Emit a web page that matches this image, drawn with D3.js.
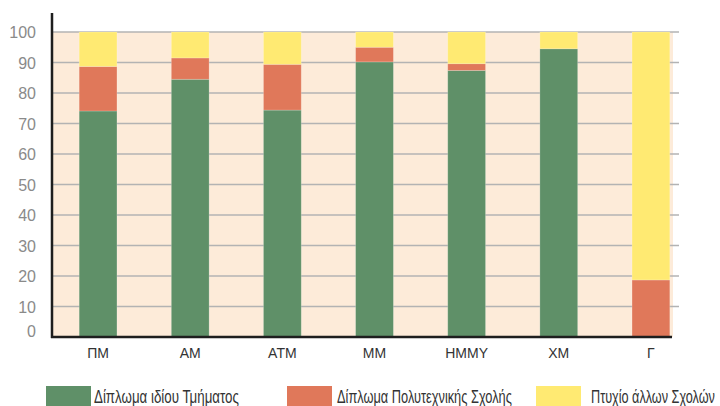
<!DOCTYPE html>
<html>
<head>
<meta charset="utf-8">
<script src="https://cdn.jsdelivr.net/npm/d3@7"></script>
<style>
  html, body { margin: 0; padding: 0; background: #ffffff; }
  svg { display: block; }
</style>
</head>
<body>
<svg id="chart" width="720" height="406"></svg>
<script>
// ---- data ----
const categories = ["ΠΜ", "ΑΜ", "ΑΤΜ", "ΜΜ", "ΗΜΜΥ", "ΧΜ", "Γ"];
const seriesNames = ["Δίπλωμα ιδίου Τμήματος", "Δίπλωμα Πολυτεχνικής Σχολής", "Πτυχίο άλλων Σχολών"];
const ownDept = [74.1, 84.5, 74.4, 90.2, 87.4, 94.5, 0];
const polytechnic = [14.6, 7.0, 15.0, 4.8, 2.2, 0, 18.7];
const otherSchools = [11.3, 8.5, 10.6, 5.0, 10.4, 5.5, 81.3];
const yTicks = [0, 10, 20, 30, 40, 50, 60, 70, 80, 90, 100];
const colors = ["#5f9068", "#e0785a", "#ffea72"];

(function () {
// ---- build table ----
const keys = ["own", "poly", "other"];
const table = categories.map((c, i) => ({ cat: c, own: ownDept[i], poly: polytechnic[i], other: otherSchools[i] }));
const stacked = d3.stack().keys(keys)(table);

const svg = d3.select("#chart");
const pLeft = 52, pRight = 673, pTop = 32, pBottom = 337;

const x = d3.scaleBand().domain(categories).range([pLeft, 697]).paddingInner(0.59).paddingOuter(0.295);
const y = d3.scaleLinear().domain([0, 100]).range([pBottom, pTop]);

// plot background
svg.append("rect").attr("x", pLeft).attr("y", y(100)).attr("width", pRight - pLeft).attr("height", y(0) - y(100))
  .attr("fill", "#fdebd9");

// gridlines
svg.append("g").selectAll("line").data(yTicks.filter(d => d > 0)).join("line")
  .attr("x1", pLeft).attr("x2", 679)
  .attr("y1", d => y(d)).attr("y2", d => y(d))
  .attr("stroke", "#b3b3b3").attr("stroke-width", 1.3);

// bars
const layer = svg.append("g").selectAll("g").data(stacked).join("g")
  .attr("fill", (d, i) => colors[i]);
layer.selectAll("rect").data(d => d).join("rect")
  .attr("x", d => x(d.data.cat))
  .attr("width", x.bandwidth())
  .attr("y", d => y(d[1]))
  .attr("height", d => Math.max(0, y(d[0]) - y(d[1])))
  .attr("stroke", "rgba(255,255,255,0.25)")
  .attr("stroke-width", 0.8);

// y axis
const yAxis = d3.axisLeft(y).tickValues(yTicks).tickSize(0).tickPadding(16);
const yg = svg.append("g").attr("transform", `translate(${pLeft},0)`).call(yAxis);
yg.select(".domain").remove();
yg.selectAll("text")
  .attr("font-family", "'Liberation Sans', Arial, sans-serif")
  .attr("font-size", 16)
  .attr("fill", "#8a8a8a")
  .attr("dy", d => d === 0 ? "-0.05em" : "0.35em");

// axis lines
svg.append("line").attr("x1", pLeft).attr("x2", pLeft).attr("y1", 13).attr("y2", pBottom + 1)
  .attr("stroke", "#1e1e1e").attr("stroke-width", 2.5);
svg.append("line").attr("x1", pLeft - 1).attr("x2", 672).attr("y1", pBottom).attr("y2", pBottom)
  .attr("stroke", "#1e1e1e").attr("stroke-width", 2.5);

// x axis labels
const xAxis = d3.axisBottom(x).tickSize(0).tickPadding(11);
const xg = svg.append("g").attr("transform", `translate(0,${pBottom})`).call(xAxis);
xg.select(".domain").remove();
xg.selectAll("text")
  .attr("font-family", "'Liberation Sans', Arial, sans-serif")
  .attr("font-size", 14)
  .attr("fill", "#333333");

// legend
const legendX = [46, 287, 536];
const legendTextX = [94, 337, 591];
const legendW = [145, 175, 124];
const lg = svg.append("g");
seriesNames.forEach((name, i) => {
  lg.append("rect").attr("x", legendX[i]).attr("y", 386).attr("width", 45).attr("height", 22).attr("fill", colors[i]);
  const t = lg.append("text").attr("x", 0).attr("y", 0)
    .attr("font-family", "'Liberation Sans Narrow', 'Liberation Sans', Arial, sans-serif")
    .attr("font-size", 18)
    .attr("fill", "#333333")
    .text(name);
  const natural = t.node().getComputedTextLength() || legendW[i];
  const sx = legendW[i] / natural;
  t.attr("transform", `translate(${legendTextX[i]},403) scale(${sx},1)`);
});
})();
</script>
</body>
</html>
